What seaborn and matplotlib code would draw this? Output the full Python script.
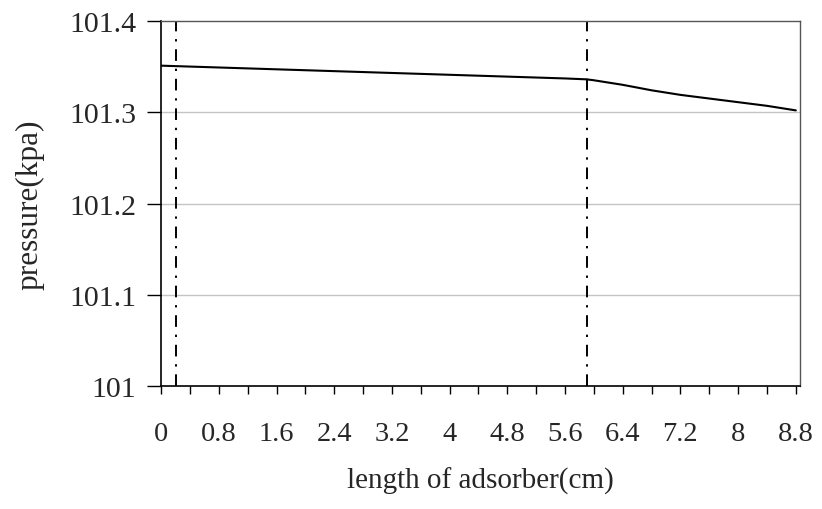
import matplotlib
matplotlib.use("Agg")
import matplotlib.pyplot as plt
import numpy as np
import pandas as pd
import seaborn as sns

# Pressure profile along the adsorber bed
length_cm = [0.0, 0.4, 0.8, 1.2, 1.6, 2.0, 2.4, 2.8, 3.2, 3.6, 4.0, 4.4, 4.8,
             5.2, 5.6, 5.9, 6.0, 6.4, 6.8, 7.2, 7.6, 8.0, 8.4, 8.8]
pressure_kpa = [101.351, 101.350, 101.349, 101.348, 101.347, 101.346, 101.345,
                101.344, 101.343, 101.342, 101.341, 101.340, 101.339, 101.338,
                101.337, 101.336, 101.335, 101.330, 101.324, 101.319, 101.315,
                101.311, 101.307, 101.302]

# Section boundaries marked with dash-dot lines
boundaries_cm = [0.2, 5.9]

x_tick_labels = ["0", "0.8", "1.6", "2.4", "3.2", "4", "4.8", "5.6", "6.4",
                 "7.2", "8", "8.8"]
y_ticks = [101.0, 101.1, 101.2, 101.3, 101.4]
y_tick_labels = ["101", "101.1", "101.2", "101.3", "101.4"]

sns.set_style("white")
plt.rcParams["font.family"] = ["Liberation Serif", "DejaVu Serif"]

df = pd.DataFrame({"length": length_cm, "pressure": pressure_kpa})

fig = plt.figure(figsize=(8.22, 5.10), dpi=100)
ax = fig.add_axes([0.196, 0.241, 0.777, 0.716])

for yv in y_ticks[1:-1]:
    ax.axhline(yv, color="#c4c4c4", linewidth=1.0, zorder=0)

sns.lineplot(data=df, x="length", y="pressure", ax=ax, color="black",
             linewidth=1.5, zorder=3)

for xb in boundaries_cm:
    ax.axvline(xb, color="black", linewidth=1.4,
               linestyle=(0, (6, 4, 1.2, 4)), zorder=2)

ax.set_xlim(0, 8.855)
ax.set_ylim(101.0, 101.4)

label_pos = [0.8 * i for i in range(len(x_tick_labels))]
ax.set_xticks(label_pos)
ax.set_xticklabels(x_tick_labels, fontsize=20.5)
ax.set_xticks([0.4 + 0.8 * i for i in range(11)], minor=True)
ax.set_yticks(y_ticks)
ax.set_yticklabels(y_tick_labels, fontsize=21.5)

ax.tick_params(axis="x", which="both", direction="out", length=6, width=1,
               color="black", bottom=True, pad=19)
ax.tick_params(axis="y", which="major", direction="out", length=10, width=1,
               color="black", left=True, pad=8)

for side in ["left", "bottom"]:
    ax.spines[side].set_color("black")
    ax.spines[side].set_linewidth(1.2)
for side in ["top", "right"]:
    ax.spines[side].set_color("#555555")
    ax.spines[side].set_linewidth(1.0)

ax.set_xlabel("length of adsorber(cm)", fontsize=21, labelpad=15)
ax.set_ylabel("pressure(kpa)", fontsize=22.5, labelpad=18)

fig.savefig("out.png", dpi=100)
